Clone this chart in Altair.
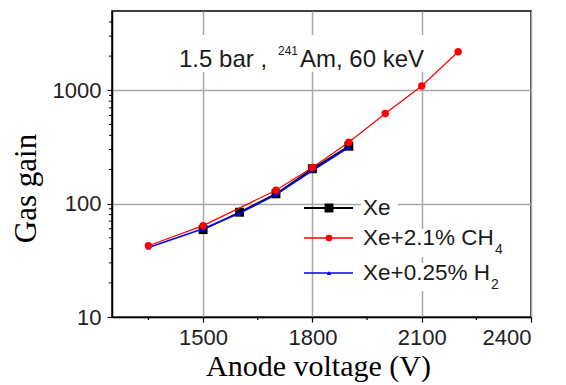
import altair as alt
import pandas as pd

# ---- data ----
xe_v = [1500, 1600, 1700, 1800, 1900]
xe_g = [59, 84, 122, 203, 321]
ch4_v = [1350, 1500, 1700, 1800, 1900, 2000, 2100, 2200]
ch4_g = [42.5, 64, 131, 208, 348, 624, 1090, 2185]
h2_v = [1350, 1500, 1600, 1700, 1800, 1900]
h2_g = [41, 60, 82, 120, 196, 314]

x_major = [1500, 1800, 2100, 2400]
x_minor = [1350, 1650, 1950, 2250]
y_major = [10, 100, 1000]
y_minor = [20, 30, 40, 50, 60, 70, 80, 90,
           200, 300, 400, 500, 600, 700, 800, 900,
           2000, 3000, 4000]

legend_main = ["Xe", "Xe+2.1% CH", "Xe+0.25% H"]
legend_sub = ["", "4", "2"]
colors = ["#000000", "#ff0000", "#0000ff"]

W, H = 419, 306
SANS = "Liberation Sans"
SERIF = "Liberation Serif"

xs = alt.Scale(domain=[1250, 2400], nice=False, zero=False)
ys = alt.Scale(type="log", domain=[10, 5000], nice=False)

xaxis = alt.Axis(values=x_major, format="d", grid=True, gridColor="#a8a8a8", gridWidth=1.5,
                 domainColor="black", domainWidth=1.5, tickColor="black", tickSize=5, tickWidth=1.2,
                 labelFont=SANS, labelFontSize=22, labelColor="#222222", labelPadding=5,
                 title="Anode voltage (V)", titleFont=SERIF, titleFontSize=30, titleFontWeight="normal",
                 titleColor="black", titleX=206, titleY=58, titleBaseline="alphabetic", titleAlign="center")
yaxis = alt.Axis(values=y_major, format="d", grid=True, gridColor="#a8a8a8", gridWidth=1.5,
                 domainColor="black", domainWidth=1.5, tickColor="black", tickSize=5, tickWidth=1.2,
                 labelFont=SANS, labelFontSize=22, labelColor="#222222", labelPadding=6,
                 title="Gas gain", titleFont=SERIF, titleFontSize=31, titleFontWeight="normal",
                 titleColor="black", titleX=-86, titleY=177, titleAngle=270,
                 titleBaseline="middle", titleAlign="center")


def series(v, g, color, shape, size, sw, with_axes=False):
    df = pd.DataFrame({"V": v, "G": g})
    xenc = alt.X("V:Q", scale=xs, axis=xaxis) if with_axes else alt.X("V:Q", scale=xs)
    yenc = alt.Y("G:Q", scale=ys, axis=yaxis) if with_axes else alt.Y("G:Q", scale=ys)
    return alt.Chart(df).mark_line(
        color=color, strokeWidth=sw,
        point=alt.OverlayMarkDef(shape=shape, size=size, filled=True, color=color, opacity=1)
    ).encode(x=xenc, y=yenc)


s_xe = series(xe_v, xe_g, colors[0], "square", 80, 1.6, with_axes=True)
s_h2 = series(h2_v, h2_g, colors[2], "triangle-up", 22, 1.6)
s_ch4 = series(ch4_v, ch4_g, colors[1], "circle", 55, 1.2)

# minor ticks
xmin_df = pd.DataFrame({"V": x_minor})
ymin_df = pd.DataFrame({"G": y_minor})
xminor = alt.Chart(xmin_df).mark_rule(color="black", strokeWidth=1.2).encode(
    x=alt.X("V:Q", scale=xs), y=alt.value(H), y2=alt.value(H + 3))
yminor = alt.Chart(ymin_df).mark_rule(color="black", strokeWidth=1.0).encode(
    y=alt.Y("G:Q", scale=ys), x=alt.value(-3), x2=alt.value(0))

one = pd.DataFrame({"a": [0]})

# white boxes behind text (annotation and legend rows)
box_x1 = [62, 249, 249, 249]
box_x2 = [315, 286, 398, 395]
box_y1 = [24, 187, 218, 252]
box_y2 = [61, 207, 246, 280]
boxes = [
    alt.Chart(one).mark_rect(color="white").encode(
        x=alt.value(box_x1[i]), x2=alt.value(box_x2[i]),
        y=alt.value(box_y1[i]), y2=alt.value(box_y2[i]))
    for i in range(len(box_x1))
]


def txt(s, x, y, size, font=SANS, color="#1a1a1a"):
    return alt.Chart(one).mark_text(text=s, font=font, fontSize=size, color=color,
                                    align="left", baseline="alphabetic").encode(
        x=alt.value(x), y=alt.value(y))


annot = [
    txt("1.5 bar ,", 67, 56, 24),
    txt("241", 166, 44, 12),
    txt("Am, 60 keV", 188, 56, 24),
]

# legend
row_y = [197, 227, 262]
shapes = ["square", "circle", "triangle-up"]
msizes = [80, 45, 20]
lwidths = [2.0, 1.4, 1.6]
sub_x = [0, 383, 379]
legend_layers = []
for i in range(3):
    legend_layers.append(alt.Chart(one).mark_rule(color=colors[i], strokeWidth=lwidths[i]).encode(
        x=alt.value(192), x2=alt.value(241), y=alt.value(row_y[i])))
    legend_layers.append(alt.Chart(one).mark_point(shape=shapes[i], size=msizes[i], filled=True,
                                                   color=colors[i], opacity=1).encode(
        x=alt.value(217), y=alt.value(row_y[i])))
    legend_layers.append(txt(legend_main[i], 251, row_y[i] + 7, 22.5))
    if legend_sub[i]:
        legend_layers.append(txt(legend_sub[i], sub_x[i], row_y[i] + 16, 14))

chart = alt.layer(
    s_xe, *boxes, *annot, xminor, yminor, s_h2, s_ch4, *legend_layers
).properties(
    width=W, height=H,
    autosize=alt.AutoSizeParams(type="none"),
    padding={"left": 112, "top": 11, "right": 35, "bottom": 68},
).configure(
    background="white",
    view=alt.ViewConfig(stroke="black", strokeWidth=1.5),
)

chart.save("out.html", embed_options={"renderer": "svg", "actions": False})
